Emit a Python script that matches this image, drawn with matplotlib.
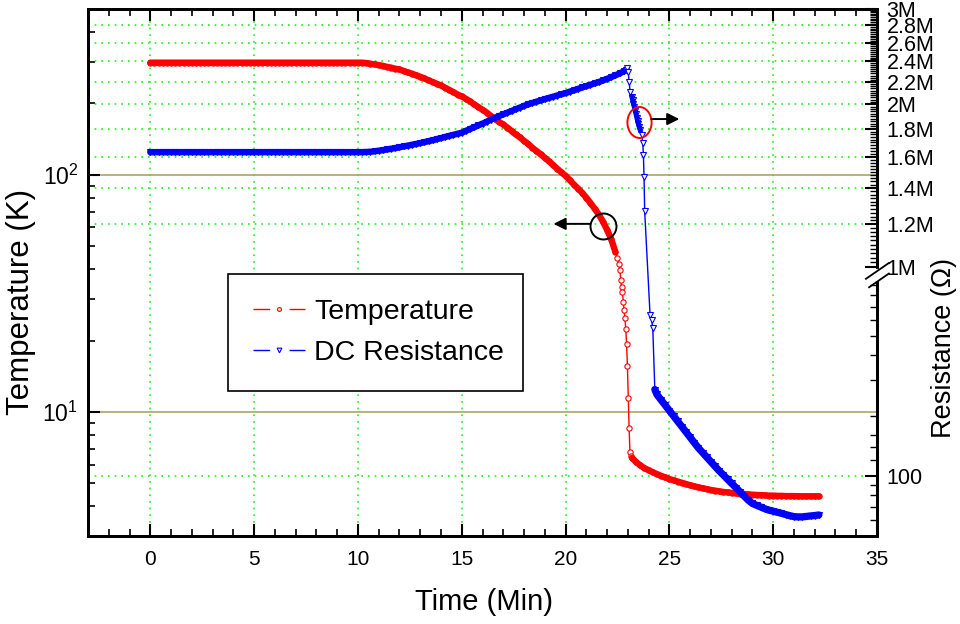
# temperatura y resistencia DC vs tiempo (eje derecho con corte)

import numpy as np
import matplotlib
matplotlib.use('Agg')
import matplotlib.pyplot as plt
from matplotlib.lines import Line2D
from matplotlib.path import Path
from matplotlib.transforms import Affine2D
from matplotlib.ticker import FixedLocator, FixedFormatter, MultipleLocator, NullFormatter

plt.rcParams['font.family'] = ['Liberation Sans', 'DejaVu Sans']
plt.rcParams['mathtext.fontset'] = 'custom'
plt.rcParams['mathtext.rm'] = 'Liberation Sans'
plt.rcParams['mathtext.it'] = 'Liberation Sans:italic'

# ---- datos de temperatura (K) ----
t_temp_plano = np.round(np.arange(0, 10.01, 0.2), 2)
temp_plano = [297.0] * len(t_temp_plano)

t_temp_enfria = np.round(np.arange(10.2, 22.41, 0.2), 2)
temp_enfria = [297, 296, 294, 292, 290,
               288, 285, 283, 280, 278,
               274, 270, 267, 263, 259,
               255, 250, 246, 242, 238,
               233, 228, 223, 218, 214,
               209, 204, 198, 193, 188,
               183, 177, 172, 167, 163,
               158, 153, 148, 144, 139,
               135, 130, 126, 122, 118,
               114, 110, 106, 102.5, 99,
               95, 91, 87.5, 84, 80,
               76, 72, 68, 63.5, 58.6,
               53.5, 47.3]

t_temp_caida = [22.5, 22.56, 22.62, 22.66, 22.7, 22.74, 22.78, 22.82, 22.86,
                22.9, 22.94, 22.98, 23.02, 23.06, 23.1, 23.14]
temp_caida = [44.5, 42.0, 39.7, 36.0, 33.6, 32.0, 29.1, 26.9, 24.9,
              22.4, 19.3, 15.6, 11.5, 8.6, 6.8, 6.5]

t_temp_cola = np.round(np.arange(23.2, 32.21, 0.2), 2)
temp_cola = [6.4, 6.15, 5.95, 5.8, 5.68,
             5.57, 5.47, 5.38, 5.3, 5.22,
             5.15, 5.09, 5.03, 4.97, 4.91,
             4.86, 4.81, 4.77, 4.73, 4.69,
             4.66, 4.63, 4.6, 4.58, 4.56,
             4.54, 4.52, 4.51, 4.49, 4.48,
             4.47, 4.46, 4.45, 4.44, 4.44,
             4.43, 4.43, 4.42, 4.42, 4.42,
             4.41, 4.41, 4.41, 4.41, 4.41,
             4.41]

# ---- datos de resistencia (Ohm) ----
t_res_plano = np.round(np.arange(0, 10.21, 0.2), 2)
res_plano = [1.631e6] * len(t_res_plano)

t_res_sube = np.round(np.arange(10.4, 22.81, 0.2), 2)
res_sube_M = [1.632, 1.634, 1.637, 1.641,
              1.645, 1.65, 1.655, 1.66, 1.665,
              1.671, 1.677, 1.683, 1.689, 1.695,
              1.702, 1.709, 1.716, 1.724, 1.732,
              1.74, 1.748, 1.756, 1.764, 1.772,
              1.786, 1.8, 1.814, 1.828, 1.842,
              1.856, 1.874, 1.888, 1.902, 1.916,
              1.93, 1.944, 1.958, 1.972, 1.986,
              2.0, 2.011, 2.022, 2.033, 2.044,
              2.055, 2.065, 2.076, 2.087, 2.097,
              2.11, 2.122, 2.135, 2.148, 2.16,
              2.173, 2.186, 2.198, 2.213, 2.228,
              2.245, 2.262, 2.28, 2.3]

t_res_caida = [22.9, 22.98, 23.02, 23.06, 23.11,
               23.19, 23.23, 23.27, 23.31, 23.35, 23.39, 23.43, 23.47, 23.51, 23.55, 23.59,
               23.67, 23.72, 23.75, 23.78, 23.81,
               24.07, 24.15, 24.2]
res_caida = [2.315e6, 2.333e6, 2.297e6, 2.2e6, 2.109e6,
             2.064e6, 2.035e6, 2.005e6, 1.976e6, 1.947e6, 1.918e6, 1.889e6, 1.86e6, 1.836e6, 1.812e6, 1.792e6,
             1.754e6, 1.693e6, 1.611e6, 1.469e6, 1.271e6,
             637, 601, 550]

t_res_cola = np.concatenate([[24.3], np.round(np.arange(24.4, 32.21, 0.2), 2)])
res_cola = [270,
            255, 239.6, 225.4, 211.8,
            199.3, 187.3, 176.2, 165.6, 155.8,
            146.4, 137.7, 130.6, 123.9, 117.5,
            111.5, 105.8, 100.9, 96.1, 91.6,
            87.3, 83.2, 79.2, 75.5, 72.7,
            71.2, 69.8, 68.4, 67.3, 66.5,
            65.7, 64.9, 64.0, 63.2, 62.5,
            62.3, 62.3, 62.6, 63.0, 63.3,
            63.7]

tiempo_T = np.concatenate([t_temp_plano, t_temp_enfria, t_temp_caida, t_temp_cola])
temperatura = np.concatenate([temp_plano, temp_enfria, temp_caida, temp_cola])
tiempo_R = np.concatenate([t_res_plano, t_res_sube, t_res_caida, t_res_cola])
resistencia = np.concatenate([res_plano, np.array(res_sube_M) * 1e6, res_caida, res_cola])

# ---- escala del eje derecho: log abajo (50..~1k), corte, log arriba (1M..3M) ----
L0, L3 = np.log10(50), np.log10(3e6)
a, b = 200 / 527, 541 / 527
lr_a = L0 + 0.5 / a
f_b = 1 - (L3 - 6) * b


def adelante(r):
    lr = np.log10(np.clip(np.asarray(r, dtype=float), 1e-3, None))
    bajo = (lr - L0) * a
    medio = 0.5 + (lr - lr_a) / (6 - lr_a) * (f_b - 0.5)
    alto = 1 - (L3 - lr) * b
    return np.where(lr <= lr_a, bajo, np.where(lr < 6, medio, alto))


def atras(f):
    f = np.asarray(f, dtype=float)
    bajo = L0 + f / a
    medio = lr_a + (f - 0.5) / (f_b - 0.5) * (6 - lr_a)
    alto = L3 - (1 - f) / b
    return 10 ** np.where(f <= 0.5, bajo, np.where(f < f_b, medio, alto))


fig = plt.figure(figsize=(9.6, 6.24), dpi=100)
ax = fig.add_axes([88 / 960, 88 / 624, 789 / 960, 527 / 624])
ax2 = ax.twinx()

rojo, azul = '#ff0000', '#0000ff'
verde = '#22ee22'

# eje izquierdo
ax.set_yscale('log')
ax.set_ylim(3, 500)
ax.set_xlim(-3, 35)
ax.xaxis.set_major_locator(MultipleLocator(5))
ax.xaxis.set_minor_locator(MultipleLocator(1))
ax.yaxis.grid(True, which='major', color='#aaa46c', lw=1.2, ls='-')
ax.xaxis.grid(True, which='major', color=verde, lw=1.2, ls=(0, (1, 3)))
ax.set_axisbelow(True)

# eje derecho
ax2.set_yscale('function', functions=(adelante, atras))
ax2.set_ylim(50, 3e6)
ticks_R = [100, 1e6, 1.2e6, 1.4e6, 1.6e6, 1.8e6, 2e6, 2.2e6, 2.4e6, 2.6e6, 2.8e6, 3e6]
etiquetas_R = ['100', '1M', '1.2M', '1.4M', '1.6M', '1.8M', '2M', '2.2M', '2.4M', '2.6M', '2.8M', '3M']
ax2.yaxis.set_major_locator(FixedLocator(ticks_R))
ax2.yaxis.set_major_formatter(FixedFormatter(etiquetas_R))
menores = [60, 70, 80, 90, 120, 140, 160, 200, 300, 400, 500, 600, 700, 800, 900]
menores += [v * 1e4 for v in range(102, 300, 2) if v % 20 != 0]
ax2.yaxis.set_minor_locator(FixedLocator(menores))
ax2.yaxis.set_minor_formatter(NullFormatter())

# rejilla horizontal del eje derecho, dibujada debajo de los datos
for v in [100, 1.2e6, 1.4e6, 1.6e6, 1.8e6, 2e6, 2.2e6, 2.4e6, 2.6e6, 2.8e6]:
    ax.plot([-3, 35], [v, v], color=verde, lw=1.2, ls=(0, (1, 3)), transform=ax2.transData,
            zorder=1)

# temperatura
ax.plot(t_temp_plano.tolist() + t_temp_enfria.tolist(), temp_plano + temp_enfria,
        '-', color=rojo, lw=4.6, zorder=3, solid_capstyle='round')
ax.plot(t_temp_cola, temp_cola, '-', color=rojo, lw=4.6, zorder=3, solid_capstyle='round')
ax.plot(tiempo_T, temperatura, '-', color=rojo, lw=1, marker='o', ms=3.8,
        mfc='white', mec=rojo, mew=0.8, zorder=2)

# resistencia
ax2.plot(t_res_plano.tolist() + t_res_sube.tolist(), res_plano + list(np.array(res_sube_M) * 1e6),
         '-', color=azul, lw=4.6, zorder=3, solid_capstyle='round')
ax2.plot(t_res_caida[5:16], res_caida[5:16], '-', color=azul, lw=3.5, zorder=3)
ax2.plot(t_res_cola, res_cola, '-', color=azul, lw=5.2, zorder=3, solid_capstyle='round')
ax2.plot(tiempo_R, resistencia, '-', color=azul, lw=1, marker='v', ms=4.6,
         mfc='white', mec=azul, mew=0.8, zorder=2)

for eje in (ax, ax2):
    for s in eje.spines.values():
        s.set_linewidth(2)
ax.tick_params(which='major', direction='in', length=8.5, width=1.5, labelsize=15)
ax.tick_params(which='minor', direction='in', length=5, width=1.2)
ax.tick_params(axis='x', which='both', top=True, pad=10)
ax.tick_params(axis='y', which='both', right=False, pad=7, labelsize=16.5)
ax2.tick_params(axis='y', which='major', direction='in', length=8.5, width=1.5, labelsize=15.5, pad=7)
ax2.tick_params(axis='y', which='minor', direction='in', length=5, width=1.0)

ax.set_xlabel('Time (Min)', fontsize=21)
ax.xaxis.set_label_coords(0.502, -0.099)
ax.set_ylabel('Temperature (K)', fontsize=22.5)
ax.yaxis.set_label_coords(-0.066, 0.444)
ax2.set_ylabel('Resistance (Ω)', fontsize=19.5)
ax2.yaxis.set_label_coords(1.068, 0.357)

# simbolo de corte en el eje derecho
ax2.plot([1.0, 1.0], [0.487, 0.503], color='white', lw=3, transform=ax2.transAxes,
         clip_on=False, zorder=5)
ax2.plot([0.986, 1.015], [0.488, 0.518], color='k', lw=1.3, transform=ax2.transAxes,
         clip_on=False, zorder=6)
ax2.plot([0.99, 1.015], [0.472, 0.498], color='k', lw=1.3, transform=ax2.transAxes,
         clip_on=False, zorder=6)

# circulos y flechas indicando cada eje
ax2.plot([21.78], [60.9], transform=ax.transData, marker='o', ms=18.7, mfc='none',
         mec='k', mew=1.4, zorder=7)
ax2.annotate('', xy=(19.42, 62.1), xycoords=ax.transData, xytext=(21.15, 62.1),
             textcoords=ax.transData,
             arrowprops=dict(arrowstyle='-|>', color='k', lw=1.4, mutation_scale=18,
                             shrinkA=0, shrinkB=0), zorder=7)
elipse = Affine2D().scale(0.78, 1.0).transform_path(Path.unit_circle())
ax2.plot([23.56], [1.858e6], marker=elipse, ms=22.3, mfc='none', mec=rojo, mew=1.4, zorder=7)
ax2.annotate('', xy=(25.48, 1.878e6), xytext=(24.13, 1.878e6),
             arrowprops=dict(arrowstyle='-|>', color='k', lw=1.4, mutation_scale=18,
                             shrinkA=0, shrinkB=0), zorder=7)

# leyenda al estilo Origin: linea - simbolo - linea
h_temp = Line2D([], [], color=rojo, lw=1, ls=(0, (12, 14)), marker='o', ms=2.8,
                mfc='white', mec=rojo, mew=0.8)
h_res = Line2D([], [], color=azul, lw=1, ls=(0, (12, 14)), marker='v', ms=3.4,
               mfc='white', mec=azul, mew=0.8)
leyenda = ax2.legend([h_temp, h_res], ['Temperature', 'DC Resistance'], loc='lower left',
                     bbox_to_anchor=(0.177, 0.275, 0.374, 0.2335), mode='expand',
                     borderaxespad=0, fontsize=20.5, numpoints=1,
                     handlelength=1.85, handletextpad=0.3, labelspacing=0.54,
                     borderpad=0.88, fancybox=False, framealpha=1, edgecolor='k')
leyenda.get_frame().set_linewidth(1.2)
leyenda.set_zorder(8)

plt.savefig('out.png', dpi=100)
